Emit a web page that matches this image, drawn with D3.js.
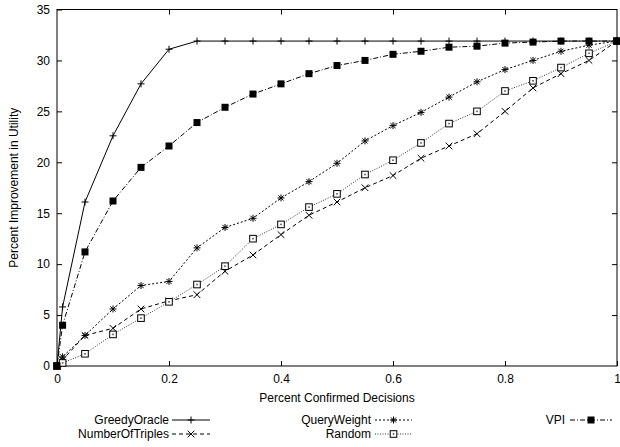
<!DOCTYPE html>
<html>
<head>
<meta charset="utf-8">
<script src="https://cdn.jsdelivr.net/npm/d3@7"></script>
<style>
  body { margin: 0; background: #fff; }
  text { font-family: "Liberation Sans", Arial, sans-serif; font-size: 12px; fill: #000; }
</style>
</head>
<body>
<svg class="canvas" width="620" height="447"></svg>
<script>
var xs = [0, 0.01, 0.05, 0.1, 0.15, 0.2, 0.25, 0.3, 0.35, 0.4, 0.45, 0.5, 0.55, 0.6, 0.65, 0.7, 0.75, 0.8, 0.85, 0.9, 0.95, 1];

var greedyOracle    = [0, 5.8, 16.1, 22.6, 27.7, 31.1, 31.9, 31.9, 31.9, 31.9, 31.9, 31.9, 31.9, 31.9, 31.9, 31.9, 31.9, 31.9, 31.9, 31.9, 31.9, 31.9];
var numberOfTriples = [0, 0.6, 3.0, 3.7, 5.6, 6.4, 7.0, 9.3, 10.9, 12.9, 14.8, 16.1, 17.5, 18.7, 20.4, 21.6, 22.8, 25.0, 27.3, 28.7, 30.0, 31.9];
var queryWeight     = [0, 0.9, 3.0, 5.6, 7.9, 8.3, 11.6, 13.6, 14.5, 16.5, 18.1, 19.9, 22.1, 23.6, 24.9, 26.4, 27.9, 29.1, 30.0, 30.9, 31.5, 31.9];
var random          = [0, 0.3, 1.2, 3.1, 4.7, 6.3, 8.0, 9.8, 12.5, 13.9, 15.6, 16.9, 18.8, 20.2, 21.9, 23.8, 25.0, 27.0, 28.0, 29.3, 30.7, 31.9];
var vpi             = [0, 4.0, 11.2, 16.2, 19.5, 21.6, 23.9, 25.4, 26.7, 27.7, 28.7, 29.5, 30.0, 30.6, 30.9, 31.3, 31.4, 31.7, 31.8, 31.9, 31.9, 31.9];

var xTicks = [0, 0.2, 0.4, 0.6, 0.8, 1];
var yTicks = [0, 5, 10, 15, 20, 25, 30, 35];

var series = [
  { name: "GreedyOracle",    values: greedyOracle,    dash: null,      marker: "plus" },
  { name: "NumberOfTriples", values: numberOfTriples, dash: "4,3",     marker: "cross" },
  { name: "QueryWeight",     values: queryWeight,     dash: "2,2",     marker: "star" },
  { name: "Random",          values: random,          dash: "1,1.5",   marker: "box" },
  { name: "VPI",             values: vpi,             dash: "5,2,1,2", marker: "fbox" }
];

function draw() {
  var pl = 57, pr = 617, pt = 9.5, pb = 366;

  var x = d3.scaleLinear().domain([0, 1]).range([pl, pr]);
  var y = d3.scaleLinear().domain([0, 35]).range([pb, pt]);

  var svg = d3.select(".canvas");

  function styleText(g) {
    g.selectAll("text").style("font-size", "12px").style("font-family", "Liberation Sans, Arial, sans-serif");
  }

  // ticks on all four sides, pointing inward
  svg.append("g")
    .attr("transform", "translate(0," + pb + ")")
    .call(d3.axisBottom(x).tickValues(xTicks).tickSize(-5).tickPadding(8).tickFormat(d3.format("")))
    .call(function(g) { g.select(".domain").remove(); g.selectAll("text").attr("dy", "0.71em"); styleText(g); });

  svg.append("g")
    .attr("transform", "translate(0," + pt + ")")
    .call(d3.axisTop(x).tickValues(xTicks.slice(1, -1)).tickSize(-5).tickFormat(""))
    .call(function(g) { g.select(".domain").remove(); });

  svg.append("g")
    .attr("transform", "translate(" + pl + ",0)")
    .call(d3.axisLeft(y).tickValues(yTicks).tickSize(-5).tickPadding(7))
    .call(function(g) { g.select(".domain").remove(); styleText(g); });

  svg.append("g")
    .attr("transform", "translate(" + pr + ",0)")
    .call(d3.axisRight(y).tickValues(yTicks.slice(1, -1)).tickSize(-5).tickFormat(""))
    .call(function(g) { g.select(".domain").remove(); });

  svg.append("rect")
    .attr("x", pl).attr("y", pt)
    .attr("width", pr - pl).attr("height", pb - pt)
    .attr("fill", "none").attr("stroke", "#000").attr("stroke-width", 1);

  svg.append("text")
    .attr("x", (pl + pr) / 2).attr("y", 402)
    .attr("text-anchor", "middle")
    .text("Percent Confirmed Decisions");

  svg.append("text")
    .attr("transform", "translate(18," + ((pt + pb) / 2) + ") rotate(-90)")
    .attr("text-anchor", "middle")
    .text("Percent Improvement in Utility");

  function drawMarker(g, type, cx, cy) {
    var s = 3.5;
    var m = g.append("g").attr("transform", "translate(" + cx + "," + cy + ")");
    if (type === "plus" || type === "star") {
      m.append("path").attr("d", "M" + (-s) + ",0H" + s + "M0," + (-s) + "V" + s)
        .attr("stroke", "#000").attr("stroke-width", 1);
    }
    if (type === "cross" || type === "star") {
      var c = type === "star" ? 2.6 : 3.3;
      m.append("path").attr("d", "M" + (-c) + "," + (-c) + "L" + c + "," + c + "M" + (-c) + "," + c + "L" + c + "," + (-c))
        .attr("stroke", "#000").attr("stroke-width", 1);
    }
    if (type === "box") {
      m.append("rect").attr("x", -3.3).attr("y", -3.3).attr("width", 6.6).attr("height", 6.6)
        .attr("fill", "#fff").attr("stroke", "#000").attr("stroke-width", 1);
      m.append("rect").attr("x", -0.8).attr("y", -0.8).attr("width", 1.6).attr("height", 1.6).attr("fill", "#555");
    }
    if (type === "fbox") {
      m.append("rect").attr("x", -3.5).attr("y", -3.5).attr("width", 7).attr("height", 7).attr("fill", "#000");
    }
  }

  var line = d3.line()
    .x(function(d, i) { return x(xs[i]); })
    .y(function(d) { return y(d); });

  series.forEach(function(s) {
    var g = svg.append("g");
    g.append("path")
      .datum(s.values)
      .attr("d", line)
      .attr("fill", "none")
      .attr("stroke", s.marker === "box" ? "#333" : "#000")
      .attr("stroke-width", 1)
      .attr("stroke-dasharray", s.dash);
    s.values.forEach(function(v, i) {
      drawMarker(g, s.marker, x(xs[i]), y(v));
    });
  });

  // legend
  var legendPos = [
    { tx: 169, ty: 420, lx: 172, len: 38 },
    { tx: 169, ty: 434, lx: 172, len: 38 },
    { tx: 371, ty: 420, lx: 375, len: 37 },
    { tx: 371, ty: 434, lx: 375, len: 37 },
    { tx: 565, ty: 420, lx: 570, len: 42 }
  ];

  series.forEach(function(s, i) {
    var p = legendPos[i];
    var g = svg.append("g");
    g.append("text")
      .attr("x", p.tx).attr("y", p.ty)
      .attr("dy", "0.35em")
      .attr("text-anchor", "end")
      .text(s.name);
    g.append("line")
      .attr("x1", p.lx).attr("x2", p.lx + p.len)
      .attr("y1", p.ty).attr("y2", p.ty)
      .attr("stroke", s.marker === "box" ? "#333" : "#000")
      .attr("stroke-width", 1)
      .attr("stroke-dasharray", s.dash);
    drawMarker(g, s.marker, p.lx + p.len / 2, p.ty);
  });
}

draw();
</script>
</body>
</html>
